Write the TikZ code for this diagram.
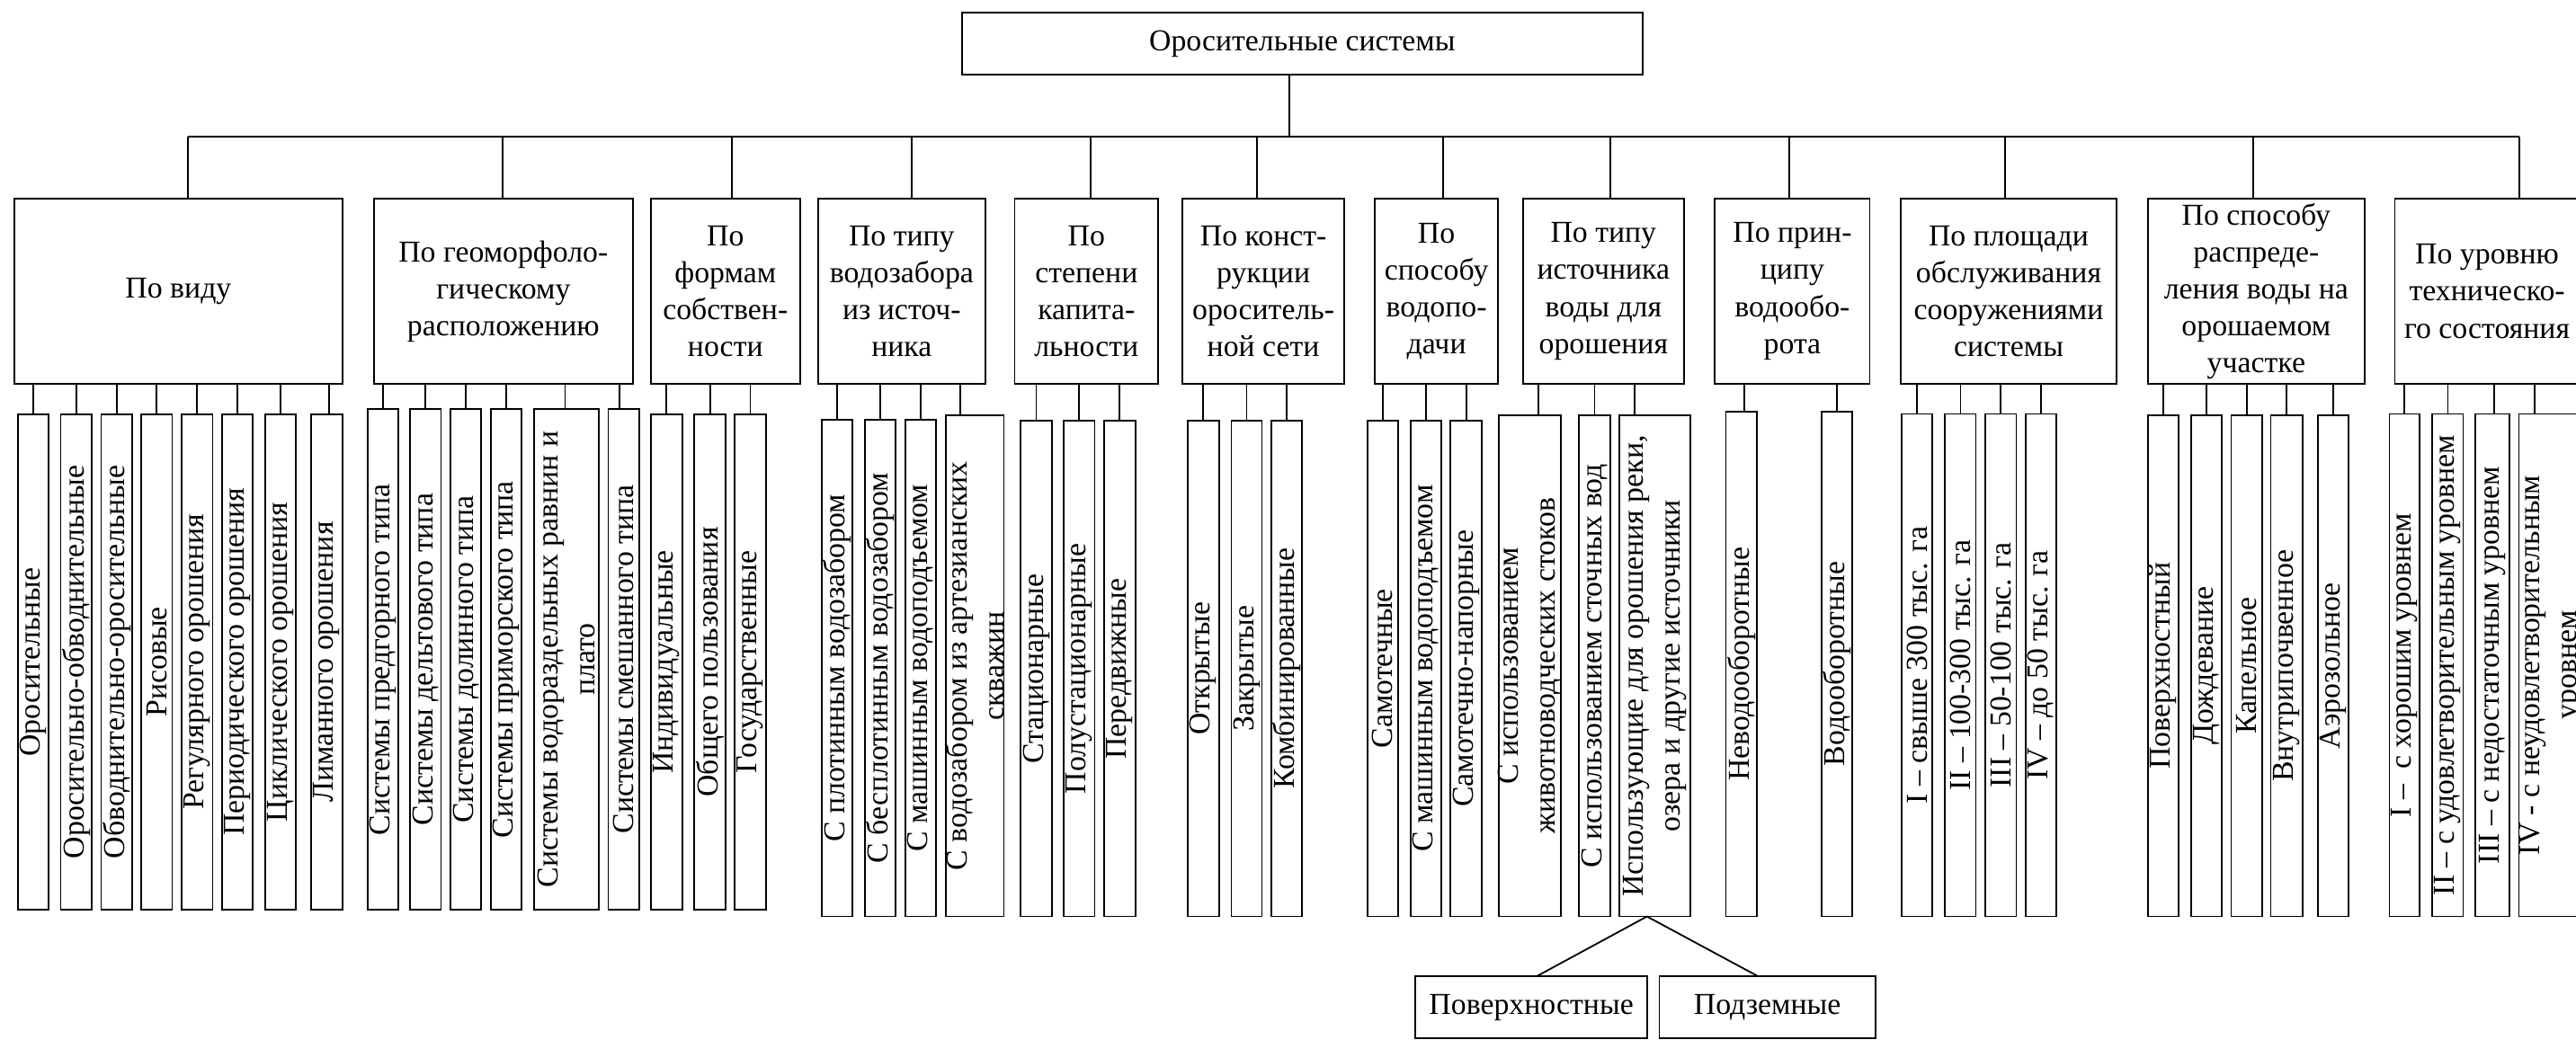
\documentclass[tikz,border=0pt]{standalone}
\usepackage{fontspec}
\setmainfont{Liberation Serif}
\usetikzlibrary{calc}

% category box: name, left x, right x, stem offset, text
\newcommand{\catbox}[5]{%
  \node[box, minimum width={(#3-#2)*1pt}, minimum height=112.7pt] (#1) at ({(#2+#3)/2},177.35) {#5};
  \draw[link] ([xshift=#4pt]#1.north) -- ([xshift=#4pt]#1.north |- bus);
}
% leaf box with upright-reading text: name, parent, left x, right x, top y, bottom y, stem offset, text
\newcommand{\kid}[8]{%
  \node[box, minimum width={(#4-#3)*1pt}, minimum height={(#6-#5)*1pt}] (#1) at ({(#3+#4)/2},{(#5+#6)/2}) {};
  \node[vtxt] (#1-t) at (#1.center) {#8};
  \draw[link] ([xshift=#7pt]#1.north) -- ([xshift=#7pt]#1.north |- #2.south);
}

\begin{document}
\begin{tikzpicture}[x=1pt,y=-1pt,
  every node/.style={font=\fontsize{18.5}{22.5}\selectfont},
  box/.style={draw, line width=1pt, inner sep=0pt, outer sep=0pt, align=center},
  vtxt/.style={rotate=90, align=center, inner sep=0pt},
  link/.style={line width=1pt}]

\useasboundingbox (0,0) rectangle (1568,633);
\clip (0,0) rectangle (1568,633);

\coordinate (bus) at (0,83);

% root
\node[box, minimum width=414.1pt, minimum height=37.8pt] (root) at (792.65,26.7) {Оросительные системы};
\draw[link] ([xshift=-7.65pt]root.south) -- ([xshift=-7.65pt]root.south |- bus);

% classification criteria
\catbox{p1}{8.8}{208.4}{5.7}{По виду}
\catbox{p2}{227.5}{385.3}{-0.3}{По геоморфоло-\\гическому\\расположению}
\catbox{p3}{396.2}{486.9}{3.85}{По\\формам\\собствен-\\ности}
\catbox{p4}{498}{599.7}{6.15}{По типу\\водозабора\\из источ-\\ника}
\catbox{p5}{617.6}{705}{2.6}{По\\степени\\капита-\\льности}
\catbox{p6}{719.8}{818.2}{-3.7}{По конст-\\рукции\\ороситель-\\ной сети}
\catbox{p7}{836.8}{911.9}{4.15}{По\\способу\\водопо-\\дачи}
\catbox{p8}{927}{1025}{4}{По типу\\источника\\воды для\\орошения}
\catbox{p9}{1043.9}{1138.1}{-2}{По прин-\\ципу\\водообо-\\рота}
\catbox{p10}{1156.8}{1288.5}{-2}{По площади\\обслуживания\\сооружениями\\системы}
\catbox{p11}{1307.5}{1439.2}{-2}{По способу\\распреде-\\ления воды на\\орошаемом\\участке}
\catbox{p12}{1457.7}{1570}{19.45}{По уровню\\техническо-\\го состояния}

% bus bar
\draw[link] ([xshift=5.7pt]p1.north |- bus) -- ([xshift=19.45pt]p12.north |- bus);

% По виду
\kid{c1a}{p1}{10.8}{29.7}{252.1}{554}{0}{Оросительные}
\kid{c1b}{p1}{36.9}{55.8}{252.1}{554}{0}{Оросительно-обводнительные}
\kid{c1c}{p1}{61.6}{80.4}{252.1}{554}{0}{Обводнительно-оросительные}
\kid{c1d}{p1}{85.9}{104.8}{252.1}{554}{0}{Рисовые}
\kid{c1e}{p1}{110.6}{129.4}{252.1}{554}{0}{Регулярного орошения}
\kid{c1f}{p1}{135}{153.8}{252.1}{554}{0}{Периодического орошения}
\kid{c1g}{p1}{161.3}{180.2}{252.1}{554}{0}{Циклического орошения}
\kid{c1h}{p1}{189.5}{208.3}{252.1}{554}{1.6}{Лиманного орошения}

% по геоморфологическому расположению
\kid{c2a}{p2}{223.7}{242.5}{249}{554}{0}{Системы предгорного типа}
\kid{c2b}{p2}{249.6}{268.4}{249}{554}{0}{Системы дельтового типа}
\kid{c2c}{p2}{274.2}{293}{249}{554}{0}{Системы долинного типа}
\kid{c2d}{p2}{298.6}{317.4}{249}{554}{0}{Системы приморского типа}
\kid{c2e}{p2}{325}{364.4}{249}{554}{-0.7}{Системы водораздельных равнин и\\плато}
\kid{c2f}{p2}{370.2}{389}{249}{554}{-2.4}{Системы смешанного типа}

% по формам собственности
\kid{c3a}{p3}{396.2}{415.3}{252.1}{554}{0}{Индивидуальные}
\kid{c3b}{p3}{422.6}{441.7}{252.1}{554}{0}{Общего пользования}
\kid{c3c}{p3}{447.2}{466.3}{252.1}{554}{0}{Государственные}

% по типу водозабора
\kid{c4a}{p4}{500.2}{518.8}{255.4}{558}{0}{С плотинным водозабором}
\kid{c4b}{p4}{526.3}{545.2}{255.4}{558}{0}{С бесплотинным водозабором}
\kid{c4c}{p4}{551}{569.8}{255.4}{558}{0}{С машинным водоподъемом}
\kid{c4d}{p4}{575.6}{611}{252.9}{558}{-8.9}{С водозабором из артезианских\\скважин}

% по степени капитальности
\kid{c5a}{p5}{621.3}{640.2}{256.3}{558}{0}{Стационарные}
\kid{c5b}{p5}{647.4}{666.3}{256.3}{558}{0}{Полустационарные}
\kid{c5c}{p5}{672}{691}{256.3}{558}{0}{Передвижные}

% по конструкции сети
\kid{c6a}{p6}{722.8}{742}{256}{558}{0}{Открытые}
\kid{c6b}{p6}{749.5}{768.1}{256}{558}{0}{Закрытые}
\kid{c6c}{p6}{773.8}{792.6}{256}{558}{0}{Комбинированные}

% по способу водоподачи
\kid{c7a}{p7}{832.3}{851.1}{256}{558}{0}{Самотечные}
\kid{c7b}{p7}{858.7}{877.3}{256}{558}{0}{С машинным водоподъемом}
\kid{c7c}{p7}{883}{902}{256}{558}{0}{Самотечно-напорные}

% по типу источника
\kid{c8a}{p8}{912.2}{949.9}{253}{558}{5.5}{С использованием\\животноводческих стоков}
\kid{c8b}{p8}{961.2}{980.1}{253}{558}{0}{С использованием сточных вод}
\kid{c8c}{p8}{985.6}{1028.8}{253}{558}{-12.3}{Использующие для орошения реки,\\озера и другие источники}

% по принципу водооборота
\kid{c9a}{p9}{1050.5}{1069.6}{250.5}{558}{1.6}{Неводооборотные}
\kid{c9b}{p9}{1109}{1127.6}{250.5}{558}{0}{Водооборотные}

% по площади обслуживания
\kid{c10a}{p10}{1157.6}{1176.3}{252}{558}{0}{I – свыше 300 тыс. га}
\kid{c10b}{p10}{1184}{1202.7}{252}{558}{0}{II – 100-300 тыс. га}
\kid{c10c}{p10}{1208.3}{1227.3}{252}{558}{0}{III – 50-100 тыс. га}
\kid{c10d}{p10}{1232.9}{1251.6}{252}{558}{0}{IV – до 50 тыс. га}

% по способу распределения воды
\kid{c11a}{p11}{1307.4}{1326.1}{252.7}{558}{0}{Поверхностный}
\kid{c11b}{p11}{1333.6}{1352.5}{252.7}{558}{0}{Дождевание}
\kid{c11c}{p11}{1358.1}{1377.1}{252.7}{558}{0}{Капельное}
\kid{c11d}{p11}{1382.2}{1401.4}{252.7}{558}{0}{Внутрипочвенное}
\kid{c11e}{p11}{1410.7}{1429.7}{252.7}{558}{0}{Аэрозольное}

% по уровню технического состояния
\kid{c12a}{p12}{1454.4}{1472.6}{252}{558}{0}{I –~~с хорошим уровнем}
\kid{c12b}{p12}{1480.6}{1499.3}{252}{558}{0}{II – с удовлетворительным уровнем}
\kid{c12c}{p12}{1506.9}{1527.3}{252}{558}{0.9}{III – с недостаточным уровнем}
\kid{c12d}{p12}{1533.2}{1573}{252}{558}{-10.3}{IV - с неудовлетворительным\\уровнем}

% kinds of natural sources
\node[box, minimum width=141pt, minimum height=37.5pt] (pov) at (932.1,613.25) {Поверхностные};
\node[box, minimum width=131.5pt, minimum height=37.5pt] (podz) at (1075.75,613.25) {Подземные};
\draw[link] ([xshift=3.1pt]pov.north) -- ([xshift=-4.7pt]c8c.south) -- ([xshift=-5.5pt]podz.north);

\end{tikzpicture}
\end{document}
